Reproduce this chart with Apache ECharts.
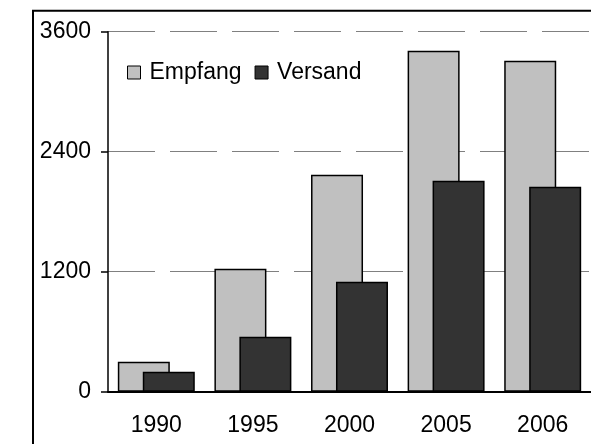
<!DOCTYPE html>
<html>
<head>
<meta charset="utf-8">
<script src="https://cdn.jsdelivr.net/npm/echarts@6/dist/echarts.min.js"></script>
<style>
html,body{margin:0;padding:0;background:#fff;}
#chart{width:591px;height:444px;}
</style>
</head>
<body>
<div id="chart"></div>
<script>
const categories = ['1990', '1995', '2000', '2005', '2006'];
const empfang = [300, 1230, 2170, 3410, 3310];
const versand = [200, 550, 1100, 2110, 2050];
const seriesNames = ['Empfang', 'Versand'];
const yMin = 0, yMax = 3600, yStep = 1200;

const chart = echarts.init(document.getElementById('chart'), null, {renderer: 'canvas'});
const font = 'Liberation Sans, Arial, sans-serif';
chart.setOption({
  animation: false,
  backgroundColor: '#fff',
  textStyle: {fontFamily: font},
  graphic: [{
    type: 'rect',
    shape: {x: 33, y: 10.8, width: 620, height: 520},
    style: {fill: 'none', stroke: '#000', lineWidth: 2},
    z: 100
  }],
  grid: {left: 108, top: 31.7, width: 487.5, height: 360, containLabel: false},
  legend: {
    data: seriesNames,
    left: 127, top: 61, padding: 0,
    itemWidth: 13, itemHeight: 13, itemGap: 13,
    icon: 'rect',
    textStyle: {fontSize: 23, color: '#000', fontFamily: font, padding: [0, 0, 0, 4]},
    itemStyle: {borderColor: '#000', borderWidth: 1}
  },
  xAxis: {
    type: 'category',
    data: categories,
    axisLine: {show: true, lineStyle: {color: '#000', width: 2}},
    axisTick: {show: false},
    axisLabel: {fontSize: 23, color: '#000', margin: 22, fontFamily: font},
    splitLine: {show: false}
  },
  yAxis: {
    type: 'value',
    min: yMin, max: yMax, interval: yStep,
    axisLine: {show: true, lineStyle: {color: '#000', width: 1.5}},
    axisTick: {show: true, length: 7, lineStyle: {color: '#000', width: 1.5}},
    axisLabel: {fontSize: 23, color: '#000', margin: 17, fontFamily: font, formatter: v => String(v)},
    splitLine: {show: true, lineStyle: {color: '#808080', width: 1, type: [47, 15]}}
  },
  series: [
    {
      name: seriesNames[0], type: 'bar', data: empfang,
      barWidth: 52, barGap: '-52%',
      itemStyle: {color: '#c0c0c0', borderColor: '#000', borderWidth: 1.5}
    },
    {
      name: seriesNames[1], type: 'bar', data: versand,
      barWidth: 52, barGap: '-52%',
      itemStyle: {color: '#333333', borderColor: '#000', borderWidth: 1.5}
    }
  ]
});
</script>
</body>
</html>
